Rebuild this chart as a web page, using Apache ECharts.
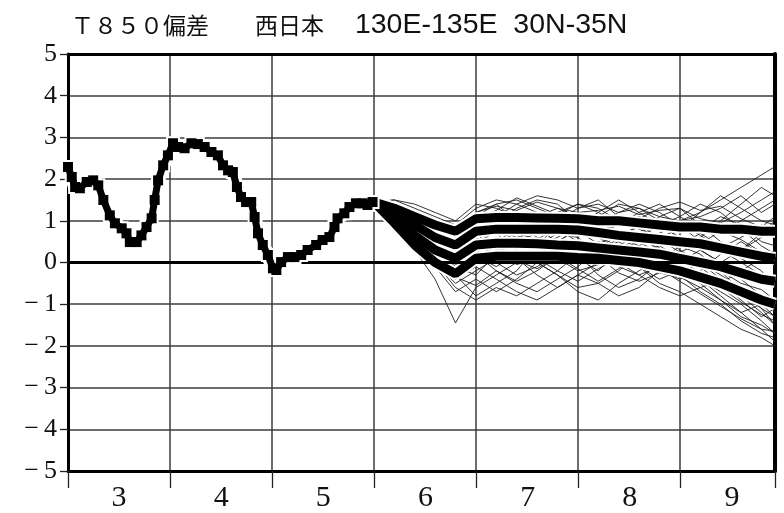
<!DOCTYPE html>
<html>
<head>
<meta charset="utf-8">
<script src="https://cdn.jsdelivr.net/npm/echarts@6/dist/echarts.min.js"></script>
<style>
html,body{margin:0;padding:0;background:#fff;}
#chart{width:784px;height:513px;}
</style>
</head>
<body>
<div id="chart"></div>
<script>
// ---- data ----
const titleJa = 'Ｔ８５０偏差　　西日本　';
const titleEn = ' 130E-135E  30N-35N';
const periodLabels = ['3', '4', '5', '6', '7', '8', '9'];
const yTicks = [-5, -4, -3, -2, -1, 0, 1, 2, 3, 4, 5];

// observed (x in days from start of period "3")
const obsDays = [0,1.1,2.1,3.5,5.5,7.4,8.9,10.4,12.3,13.8,15.8,17.2,18.2,20.2,21.6,23.1,24.6,25.5,26.5,28.0,29.4,30.9,32.4,34.3,36.3,38.2,40.2,42.2,44.1,45.6,47.1,48.5,49.7,50.9,52.4,53.9,54.9,55.9,57.3,58.8,60.3,61.3,62.7,64.7,66.6,68.6,70.5,73.0,74.9,76.9,78.4,79.3,81.3,82.8,84.7,86.7,88.1,89.6];
const obsVals = [2.29,2.05,1.81,1.78,1.93,1.97,1.85,1.5,1.13,0.94,0.82,0.7,0.49,0.49,0.65,0.85,1.06,1.5,1.97,2.33,2.57,2.86,2.77,2.74,2.86,2.84,2.77,2.65,2.57,2.33,2.21,2.17,1.81,1.57,1.45,1.45,1.09,0.7,0.42,0.18,-0.14,-0.18,0.01,0.13,0.13,0.18,0.3,0.42,0.54,0.61,0.85,1.06,1.18,1.33,1.42,1.42,1.38,1.45];

// forecast
const ensDays = [90,96,102,108,114,120,126,132,138,144,150,156,162,168,174,180,186,192,198,204,208];
const thick1 = [1.45,1.3,1.1,0.9,0.75,1.05,1.08,1.08,1.07,1.06,1.05,1.0,1.0,0.95,0.9,0.85,0.85,0.8,0.8,0.75,0.75];
const thick2 = [1.45,1.2,0.9,0.6,0.42,0.75,0.8,0.8,0.8,0.8,0.78,0.72,0.65,0.6,0.55,0.5,0.45,0.35,0.25,0.15,0.1];
const thick3 = [1.45,1.08,0.65,0.3,0.1,0.42,0.46,0.46,0.45,0.42,0.4,0.35,0.3,0.25,0.2,0.1,0.0,-0.1,-0.25,-0.4,-0.45];
const thick4 = [1.45,0.95,0.42,0.0,-0.27,0.1,0.15,0.15,0.15,0.15,0.12,0.1,0.05,0.0,-0.1,-0.2,-0.35,-0.5,-0.7,-0.9,-1.0];

const members = [
[1.45,1.5,1.3,1.1,0.9,1.3,1.5,1.4,1.6,1.5,1.3,1.4,1.2,1.3,1.1,1.0,1.2,1.5,1.8,2.1,2.3],
[1.45,1.3,1.0,0.6,0.2,0.8,1.1,1.4,1.2,1.0,1.3,1.5,1.1,0.9,0.8,1.0,1.1,1.3,1.6,1.2,1.4],
[1.45,1.0,0.3,-0.4,-1.45,-0.6,-0.3,0.0,0.3,0.4,0.1,-0.2,0.3,0.5,0.2,-0.1,-0.4,-0.8,-1.2,-1.6,-1.9],
[1.45,1.2,0.8,0.3,-0.3,-0.8,-0.5,-0.2,0.4,0.9,1.2,1.0,0.6,0.4,0.7,0.3,0.0,-0.3,-0.6,-0.9,-1.2],
[1.45,1.4,1.2,0.9,0.5,1.2,1.4,1.0,0.6,0.5,0.8,1.1,1.4,1.3,1.0,0.7,0.9,0.5,0.3,0.6,0.8],
[1.45,1.1,0.7,0.3,-0.1,-0.3,0.2,0.6,0.8,0.5,0.2,-0.3,-0.6,-0.4,0.0,0.4,0.2,-0.2,-0.7,-1.1,-1.5],
[1.45,1.3,0.9,0.5,0.1,0.6,1.0,1.3,1.5,1.4,1.0,0.6,0.4,0.7,1.1,1.3,0.9,0.7,1.0,1.3,1.5],
[1.45,1.2,0.6,0.0,-0.6,-0.9,-0.6,-0.8,-0.5,-0.2,0.2,0.5,0.3,-0.1,-0.5,-0.7,-1.0,-1.3,-1.6,-1.8,-2.0],
[1.45,1.4,1.1,0.8,0.4,0.9,0.7,0.3,0.0,-0.3,-0.6,-0.5,-0.2,0.2,0.4,0.1,-0.3,-0.5,-0.2,0.1,0.3],
[1.45,1.3,1.0,0.6,0.3,0.5,0.9,1.2,1.0,0.7,0.6,0.9,1.2,1.4,1.2,0.9,0.5,0.3,0.0,-0.3,-0.5],
[1.45,1.1,0.7,0.2,-0.2,0.2,-0.2,-0.5,-0.7,-0.4,-0.1,0.3,0.7,0.6,0.3,0.0,-0.4,-0.7,-1.0,-1.4,-1.7],
[1.45,1.5,1.4,1.2,1.0,1.4,1.3,1.1,0.9,1.2,1.4,1.3,1.0,0.8,0.6,0.8,1.2,1.6,1.3,1.0,0.9],
[1.45,1.2,0.8,0.4,0.0,0.3,0.6,0.4,0.2,0.5,0.8,0.6,0.3,0.1,-0.2,-0.4,-0.2,0.2,0.5,0.2,0.0],
[1.45,1.0,0.5,0.0,-0.5,-0.2,0.1,0.5,0.7,0.9,0.6,0.2,-0.1,-0.3,-0.6,-0.8,-0.6,-0.9,-1.3,-1.5,-1.7],
[1.45,1.3,1.1,0.7,0.4,0.9,1.2,0.9,1.1,1.3,1.1,0.8,0.9,1.1,0.9,0.6,0.3,0.0,0.3,0.7,1.0],
[1.45,1.1,0.6,0.2,-0.3,0.0,0.4,0.1,-0.3,-0.6,-0.3,0.0,0.2,-0.1,-0.4,-0.2,-0.5,-0.9,-1.2,-1.0,-1.3],
[1.45,1.4,1.2,0.9,0.6,1.1,0.8,0.6,0.4,0.6,0.9,1.2,1.5,1.2,0.9,0.6,0.6,1.0,1.4,1.8,1.6],
[1.45,1.2,0.8,0.3,-0.1,0.3,0.0,-0.3,-0.1,0.2,0.5,0.4,0.0,-0.3,-0.1,0.2,-0.1,-0.5,-0.9,-1.3,-1.1],
[1.45,1.3,0.9,0.6,0.2,0.7,0.5,0.8,1.1,0.8,0.5,0.2,0.6,0.9,0.6,0.4,0.7,0.4,0.1,-0.2,-0.6],
[1.45,1.0,0.4,-0.1,-0.7,-0.4,-0.7,-0.4,0.0,-0.3,-0.7,-0.9,-0.5,-0.2,0.1,-0.3,-0.7,-1.0,-1.4,-1.7,-1.8],
[1.45,1.4,1.2,1.0,0.7,1.1,1.4,1.5,1.3,1.1,0.9,0.7,0.9,1.2,1.4,1.1,0.8,1.1,0.9,0.5,0.4],
[1.45,1.2,0.8,0.5,0.1,0.4,0.2,0.5,0.6,0.3,0.0,0.3,0.5,0.2,-0.1,0.0,0.3,0.0,-0.4,-0.8,-1.0],
[1.45,1.3,1.0,0.7,0.3,0.6,0.3,0.1,0.4,0.7,1.0,0.8,0.5,0.6,0.9,1.1,1.4,1.2,0.8,0.4,0.2],
[1.45,1.1,0.6,0.1,-0.4,-0.1,-0.4,-0.7,-0.9,-0.6,-0.3,-0.5,-0.8,-0.6,-0.2,0.1,0.0,-0.4,-0.8,-1.2,-1.5],
[1.45,1.35,1.15,0.95,0.75,1.2,1.35,1.25,1.45,1.3,1.2,1.25,1.35,1.15,1.25,1.3,1.05,0.95,1.2,1.5,1.7],
[1.45,1.15,0.75,0.35,-0.05,0.15,-0.1,0.2,0.45,0.1,-0.2,-0.05,0.35,0.55,0.35,0.05,-0.25,-0.6,-0.95,-1.25,-1.4],
[1.45,1.25,0.9,0.55,0.15,0.45,0.75,0.55,0.85,1.05,0.75,0.45,0.65,0.85,0.55,0.25,0.45,0.75,0.55,0.25,-0.1],
[1.45,1.05,0.55,0.05,-0.35,-0.55,-0.2,-0.45,-0.2,0.15,-0.15,-0.45,-0.15,0.15,-0.15,-0.45,-0.75,-1.05,-1.35,-1.6,-1.65],
[1.45,1.4,1.25,1.05,0.8,1.0,1.25,1.55,1.35,1.15,1.4,1.2,0.95,1.05,1.3,1.45,1.25,1.35,1.05,0.85,1.1],
[1.45,1.2,0.85,0.45,0.05,0.55,0.35,0.05,-0.15,0.15,0.35,0.15,-0.25,-0.45,-0.25,-0.35,-0.6,-0.45,-0.75,-1.1,-1.3],
[1.45,1.3,1.0,0.65,0.35,0.75,1.0,0.7,0.55,0.85,0.65,0.95,0.75,0.5,0.7,0.95,0.65,0.35,0.6,0.9,0.6],
[1.45,1.1,0.65,0.25,-0.2,0.05,0.3,-0.05,0.1,-0.2,-0.45,-0.15,0.1,0.35,0.05,-0.15,0.15,-0.2,-0.5,-0.65,-0.9]
];

// ---- chart ----
const X_MAX = 208, PERIOD = 30;
const pair = (xs, ys) => xs.map((x, i) => [x, ys[i]]);
const thickLines = [thick1, thick2, thick3, thick4];

const series = [];
// zero line
series.push({
  type: 'line', data: [], z: 1, silent: true,
  markLine: { silent: true, symbol: 'none', label: { show: false },
    lineStyle: { color: '#000', width: 3, type: 'solid' },
    data: [{ yAxis: 0 }] }
});
members.forEach(m => series.push({
  type: 'line', data: pair(ensDays, m), z: 2, silent: true,
  symbol: 'none', lineStyle: { color: '#1e1e1e', width: 0.9 }
}));
thickLines.forEach(t => series.push({
  type: 'line', data: pair(ensDays, t), z: 3, silent: true,
  symbol: 'none', lineStyle: { color: '#fff', width: 13 }
}));
thickLines.forEach(t => series.push({
  type: 'line', data: pair(ensDays, t), z: 4, silent: true,
  symbol: 'none', lineStyle: { color: '#000', width: 9 }
}));
series.push({
  type: 'line', data: pair(obsDays, obsVals), z: 5, silent: true,
  symbol: 'rect', symbolSize: 14, itemStyle: { color: '#fff' },
  lineStyle: { color: '#fff', width: 14 }
});
series.push({
  type: 'line', data: pair(obsDays, obsVals), z: 6, silent: true,
  symbol: 'rect', symbolSize: 10, itemStyle: { color: '#000' },
  lineStyle: { color: '#000', width: 7 }
});

const gridLine = { show: true, lineStyle: { color: '#3c3c3c', width: 1.5 } };
const option = {
  animation: false,
  backgroundColor: '#fff',
  title: {
    text: '{a|' + titleJa + '}{b|' + titleEn + '}',
    left: 66, top: 6,
    textStyle: {
      rich: {
        a: { fontFamily: 'Noto Sans CJK JP', fontSize: 23, fontWeight: 'normal', color: '#111' },
        b: { fontFamily: 'Liberation Sans', fontSize: 28.5, fontWeight: 'normal', color: '#111' }
      }
    }
  },
  grid: [
    { left: 68, right: 9, top: 54, bottom: 42 },
    { left: 68, width: 715, top: 54, bottom: 42 }
  ],
  xAxis: [
    { gridIndex: 0, type: 'value', min: 0, max: X_MAX, interval: PERIOD,
      axisLine: { show: true, onZero: false, lineStyle: { color: '#000', width: 3 } },
      axisTick: { show: true, length: 17, lineStyle: { color: '#222', width: 1.3 } },
      axisLabel: { show: false }, splitLine: gridLine },
    { gridIndex: 0, type: 'value', position: 'top', min: 0, max: X_MAX, interval: PERIOD,
      axisLine: { show: true, onZero: false, lineStyle: { color: '#000', width: 3 } },
      axisTick: { show: false }, axisLabel: { show: false }, splitLine: { show: false } },
    { gridIndex: 1, type: 'category', data: periodLabels, boundaryGap: true,
      axisLine: { show: false }, axisTick: { show: false }, splitLine: { show: false },
      axisLabel: { fontFamily: 'Liberation Serif', fontSize: 30, color: '#111', margin: 14 } }
  ],
  yAxis: [
    { gridIndex: 0, type: 'value', min: yTicks[0], max: yTicks[yTicks.length - 1], interval: 1,
      axisLine: { show: true, onZero: false, lineStyle: { color: '#000', width: 3 } },
      axisTick: { show: true, length: 8, lineStyle: { color: '#222', width: 1.3 } },
      axisLabel: { fontFamily: 'Liberation Serif', fontSize: 26, color: '#111', margin: 11,
        formatter: v => (v < 0 ? '−\u2009' + Math.abs(v) : String(v)) },
      splitLine: gridLine },
    { gridIndex: 0, type: 'value', position: 'right', min: -5, max: 5, interval: 1,
      axisLine: { show: true, onZero: false, lineStyle: { color: '#000', width: 4 } },
      axisTick: { show: false }, axisLabel: { show: false }, splitLine: { show: false } },
    { gridIndex: 1, type: 'value', show: false }
  ],
  series: series
};
const chart = echarts.init(document.getElementById('chart'), null, { renderer: 'canvas' });
chart.setOption(option);
</script>
</body>
</html>
